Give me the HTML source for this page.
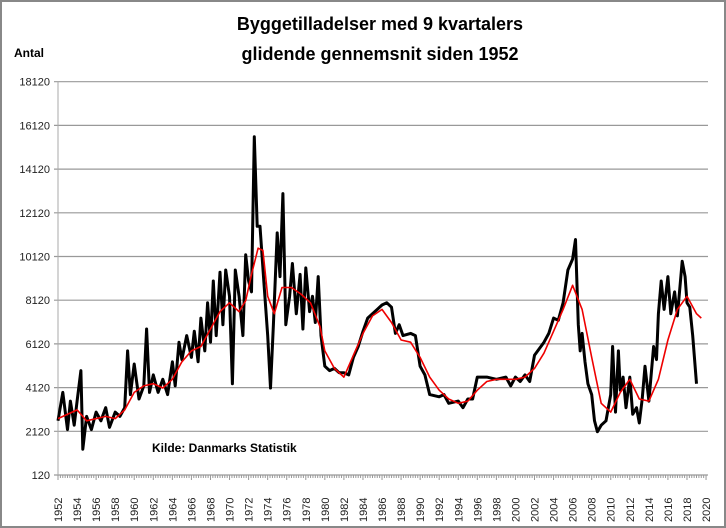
<!DOCTYPE html>
<html><head><meta charset="utf-8"><style>
html,body{margin:0;padding:0;background:#fff;}
#w{position:relative;width:722px;height:524px;border:2px solid #888;background:#fff;overflow:hidden;font-family:"Liberation Sans",sans-serif;}
</style></head><body><div id="w">
<svg id="s" width="722" height="524" xmlns="http://www.w3.org/2000/svg" font-family="Liberation Sans, sans-serif">
<text x="378" y="28" text-anchor="middle" font-size="18" font-weight="bold">Byggetilladelser med 9 kvartalers</text>
<text x="378" y="58" text-anchor="middle" font-size="18" font-weight="bold">glidende gennemsnit siden 1952</text>
<text x="12" y="55" font-size="12" font-weight="bold">Antal</text>
<g id="grid"></g>
<text x="150" y="450" font-size="12" font-weight="bold">Kilde: Danmarks Statistik</text>
<path id="blk" fill="none" stroke="#000" stroke-width="3" stroke-linejoin="round"/>
<path id="red" fill="none" stroke="#e00" stroke-width="1.6" stroke-linejoin="round"/>
</svg></div>
<script>
const X=y=>56+(y-1952)*9.53, Y=v=>473-(v-120)/2000*43.7;
let g='';
for(let i=0;i<=9;i++){const v=120+i*2000,y=Y(v);
g+=`<line x1="52" x2="706" y1="${y}" y2="${y}" stroke="#999" stroke-width="1.2"/><text x="48" y="${y+4}" text-anchor="end" font-size="11" fill="#222">${v}</text>`;}
g+=`<line x1="56" x2="56" y1="${Y(18120)}" y2="${Y(120)}" stroke="#aaa"/>`;
for(let q=0;q<=272;q++){const x=X(1952+q/4);g+=`<line x1="${x}" x2="${x}" y1="473" y2="${q%8==0?478:476}" stroke="#999"/>`;}
for(let yr=1952;yr<=2020;yr+=2){const x=X(yr)+4;g+=`<text transform="translate(${x},520) rotate(-90)" font-size="11" fill="#222">${yr}</text>`;}
document.getElementById('grid').innerHTML=g;
const b=[1952,2600,1952.5,3900,1953,2200,1953.3,3500,1953.7,2400,1954,3500,1954.4,4900,1954.6,1300,1955,2800,1955.5,2200,1956,3000,1956.5,2600,1957,3200,1957.4,2300,1958,3000,1958.5,2800,1959,3200,1959.3,5800,1959.6,3800,1960,5200,1960.5,3600,1961,4200,1961.3,6800,1961.6,3900,1962,4700,1962.5,3900,1963,4500,1963.5,3800,1964,5300,1964.3,4200,1964.7,6200,1965,5400,1965.5,6500,1966,5500,1966.3,6700,1966.7,5300,1967,7300,1967.4,5800,1967.7,8000,1968,6200,1968.3,9000,1968.6,6500,1969,9400,1969.3,7000,1969.6,9500,1970,8300,1970.3,4300,1970.6,9500,1971,8300,1971.4,6500,1971.7,10200,1972,9000,1972.3,8500,1972.6,15600,1972.9,11500,1973.2,11500,1973.6,9000,1974,6500,1974.3,4100,1974.6,7000,1975,11200,1975.3,9200,1975.6,13000,1975.9,7000,1976.3,8300,1976.6,9800,1977,7500,1977.4,9300,1977.7,6800,1978,9600,1978.4,7600,1978.7,8300,1979,7100,1979.3,9200,1979.6,6500,1980,5100,1980.5,4900,1981,5000,1981.5,4800,1982,4800,1982.5,4700,1983,5500,1983.5,6000,1984,6700,1984.5,7300,1985,7500,1985.5,7700,1986,7900,1986.5,8000,1987,7800,1987.4,6600,1987.8,7000,1988.2,6500,1989,6600,1989.5,6500,1990,5100,1990.5,4700,1991,3800,1992,3700,1992.5,3800,1993,3400,1994,3500,1994.5,3200,1995,3600,1995.5,3600,1996,4600,1997,4600,1998,4500,1999,4600,1999.5,4200,2000,4600,2000.5,4400,2001,4700,2001.5,4400,2002,5600,2003,6200,2003.5,6600,2004,7300,2004.5,7200,2005,8000,2005.5,9500,2006,10000,2006.3,10900,2006.6,7000,2006.8,5800,2007,6600,2007.3,5300,2007.6,4300,2008,3800,2008.3,2600,2008.6,2100,2009,2400,2009.5,2600,2010,3800,2010.2,6000,2010.5,3000,2010.8,5800,2011,4000,2011.3,4600,2011.6,3200,2012,4600,2012.3,2900,2012.7,3200,2013,2500,2013.3,3600,2013.6,5100,2014,3500,2014.5,6000,2014.8,5400,2015,7500,2015.3,9000,2015.6,7700,2016,9200,2016.3,7500,2016.7,8500,2017,7400,2017.5,9900,2017.8,9200,2018,8000,2018.3,7800,2018.6,6500,2019,4300];
const r=[1952,2700,1954,3100,1955,2600,1957,2800,1958,2700,1959,3100,1960,3900,1961,4200,1962,4300,1963,4100,1964,4500,1965,5300,1966,5800,1967,6000,1968,6800,1969,7600,1970,8000,1971,7600,1971.7,8100,1972.3,9300,1973,10500,1973.5,10400,1974,8300,1974.7,7500,1975.5,8700,1976.5,8700,1977.5,8400,1978.5,8000,1979.5,6900,1980,5800,1981,5000,1982,4600,1983,5600,1984,6600,1985,7400,1986,7700,1987,7100,1988,6300,1989,6200,1990,5500,1991,4600,1992,4000,1993,3600,1994,3400,1995,3500,1996,4000,1997,4400,1998,4500,1999,4500,2000,4500,2001,4600,2002,5000,2003,5700,2004,6700,2005,7700,2006,8800,2007,7700,2008,5500,2009,3400,2010,3000,2011,3900,2012,4500,2013,3600,2014,3500,2015,4500,2016,6300,2017,7700,2018,8300,2019,7500,2019.5,7300];
const P=a=>{let d='';for(let i=0;i<a.length;i+=2)d+=(i?'L':'M')+X(a[i]).toFixed(1)+','+Y(a[i+1]).toFixed(1);return d;};
document.getElementById('blk').setAttribute('d',P(b));
document.getElementById('red').setAttribute('d',P(r));
</script></body></html>
